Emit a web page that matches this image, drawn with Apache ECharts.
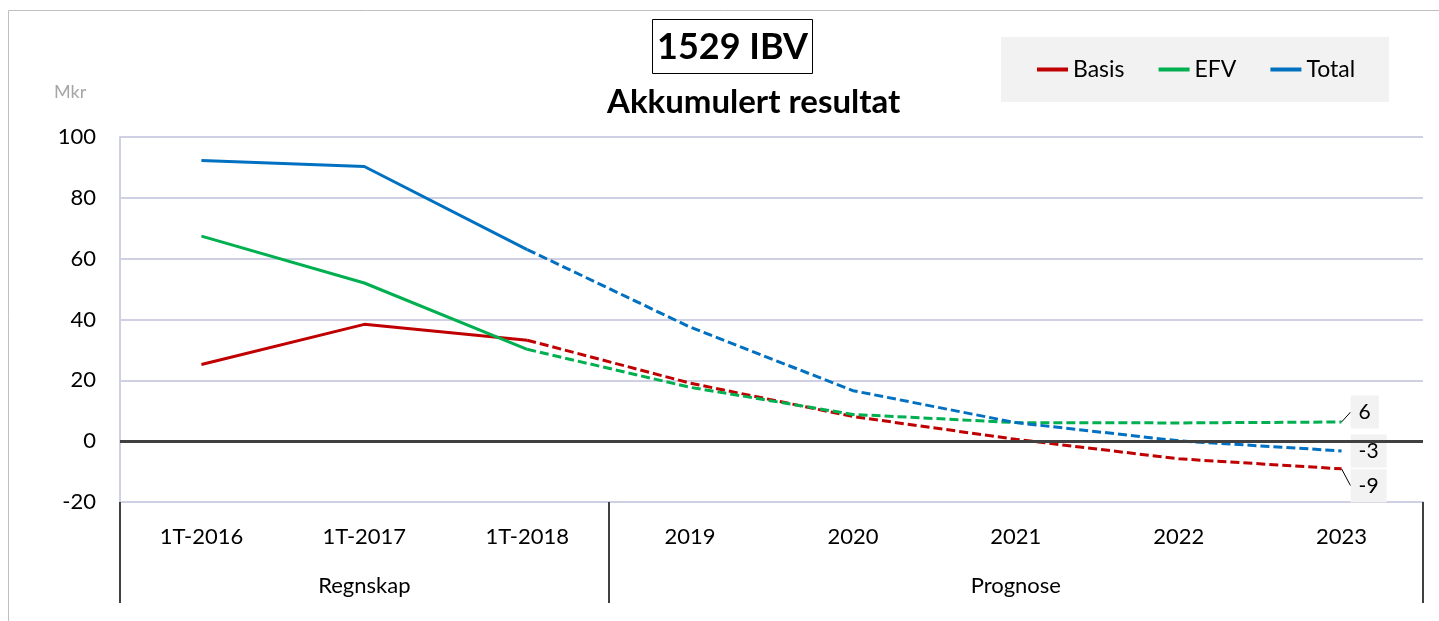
<!DOCTYPE html>
<html>
<head>
<meta charset="utf-8">
<script src="https://cdn.jsdelivr.net/npm/echarts@6/dist/echarts.min.js"></script>
<style>
  html, body { margin: 0; padding: 0; background: #fff; }
  #main { width: 1439px; height: 621px; }
</style>
</head>
<body>
<div id="main"></div>
<script>
// kategorier (nederste linje) og gruppetekster
const categories = ['1T-2016', '1T-2017', '1T-2018', '2019', '2020', '2021', '2022', '2023'];
const groupLabels = ['', 'Regnskap', '', '', '', 'Prognose', '', ''];
const yTicks = [-20, 0, 20, 40, 60, 80, 100];

// regnskap (heltrukket) og prognose (stiplet), Mkr
const basisActual = [25.2, 38.4, 33.2, null, null, null, null, null];
const basisForecast = [null, null, 33.2, 19.1, 8.1, 0.6, -5.8, -9.1];
const efvActual = [67.4, 52.0, 30.2, null, null, null, null, null];
const efvForecast = [null, null, 30.2, 17.7, 8.8, 6.1, 6.0, 6.3];
const totalActual = [92.3, 90.3, 63.0, null, null, null, null, null];
const totalForecast = [null, null, 63.0, 37.5, 16.6, 6.1, 0.1, -3.2];

const FONT = 'Lato, "Noto Sans", sans-serif';
const colors = {Basis: '#C00000', EFV: '#00B050', Total: '#0070C0'};
const labelShift = {Basis: 17, EFV: -10, Total: 0}; // flytter sluttetikett opp/ned

// heltrukket linje
function solid(name, data) {
    return {
        name: name,
        type: 'line',
        data: data,
        showSymbol: false,
        symbol: 'none',
        lineStyle: {color: colors[name], width: 3},
        itemStyle: {color: colors[name]},
        z: 3
    };
}
// stiplet prognose med verdi ved siste punkt
function dashed(name, data) {
    const last = data.length - 1;
    return {
        name: name,
        type: 'line',
        data: data.map((v, i) => i === last ? {
            value: v,
            label: {
                show: true,
                position: 'right',
                distance: 9,
                formatter: p => Math.round(p.value),
                fontFamily: FONT,
                fontSize: 21,
                color: '#000',
                backgroundColor: '#f2f2f2',
                padding: [6, 8, 6, 8]
            }
        } : v),
        showSymbol: true,
        symbol: 'circle',
        symbolSize: 0.1,
        lineStyle: {color: colors[name], width: 3, type: [9, 4]},
        itemStyle: {color: colors[name]},
        labelLayout: {dy: labelShift[name]},
        labelLine: {show: labelShift[name] !== 0, lineStyle: {color: '#000', width: 1}},
        z: 3
    };
}

const myChart = echarts.init(document.getElementById('main'));
const option = {
    animation: false,
    backgroundColor: '#fff',
    textStyle: {fontFamily: FONT},
    graphic: [{
        type: 'rect',
        shape: {x: 8.5, y: 10.5, width: 1500, height: 700},
        style: {fill: 'none', stroke: '#bfbfbf', lineWidth: 1},
        silent: true
    }],
    title: [
        {
            text: '1529 IBV',
            left: 652,
            top: 19,
            borderColor: '#000',
            borderWidth: 1,
            padding: [10, 5, 9, 5],
            textStyle: {fontFamily: FONT, fontSize: 36, fontWeight: 'bold', color: '#000'}
        },
        {
            text: 'Akkumulert resultat',
            left: 607,
            top: 86,
            padding: 0,
            textStyle: {fontFamily: FONT, fontSize: 33, fontWeight: 'bold', color: '#000'}
        },
        {
            text: 'Mkr',
            left: 54,
            top: 83,
            padding: 0,
            textStyle: {fontFamily: FONT, fontSize: 18, fontWeight: 'normal', color: '#a6a6a6'}
        }
    ],
    legend: {
        data: ['Basis', 'EFV', 'Total'],
        left: 1001,
        top: 37,
        backgroundColor: '#f2f2f2',
        padding: [21, 34, 21, 36],
        itemGap: 34,
        itemWidth: 31,
        itemHeight: 4,
        icon: 'rect',
        textStyle: {fontFamily: FONT, fontSize: 23, color: '#000'}
    },
    grid: {left: 120, right: 16, top: 137, bottom: 119},
    xAxis: [
        {
            type: 'category',
            data: categories,
            position: 'bottom',
            boundaryGap: true,
            axisLine: {show: true, onZero: false, lineStyle: {color: '#d0d0e4', width: 2}},
            axisTick: {
                show: true,
                length: 101,
                interval: (i) => i === 0 || i === 3,
                lineStyle: {color: '#404040', width: 2}
            },
            axisLabel: {interval: 0, margin: 24, fontFamily: FONT, fontSize: 22, color: '#000'}
        },
        {
            type: 'category',
            data: groupLabels,
            position: 'bottom',
            boundaryGap: true,
            axisLine: {show: false, onZero: false},
            axisTick: {show: false},
            axisLabel: {interval: 0, margin: 73, fontFamily: FONT, fontSize: 22, color: '#000'}
        }
    ],
    yAxis: {
        type: 'value',
        min: yTicks[0],
        max: yTicks[yTicks.length - 1],
        interval: 20,
        axisLine: {show: true, lineStyle: {color: '#d0d0e4', width: 2}},
        axisTick: {show: false},
        splitLine: {lineStyle: {color: '#d0d0e4', width: 2}},
        axisLabel: {margin: 24, fontFamily: FONT, fontSize: 22, color: '#000'}
    },
    series: [
        solid('Basis', basisActual),
        solid('EFV', efvActual),
        solid('Total', totalActual),
        dashed('Basis', basisForecast),
        dashed('EFV', efvForecast),
        dashed('Total', totalForecast),
        {
            // nullinje
            type: 'line',
            data: [],
            silent: true,
            markLine: {
                silent: true,
                symbol: 'none',
                label: {show: false},
                lineStyle: {color: '#404040', width: 3, type: 'solid'},
                data: [{yAxis: 0}]
            },
            z: 2
        }
    ]
};
myChart.setOption(option);
</script>
</body>
</html>
